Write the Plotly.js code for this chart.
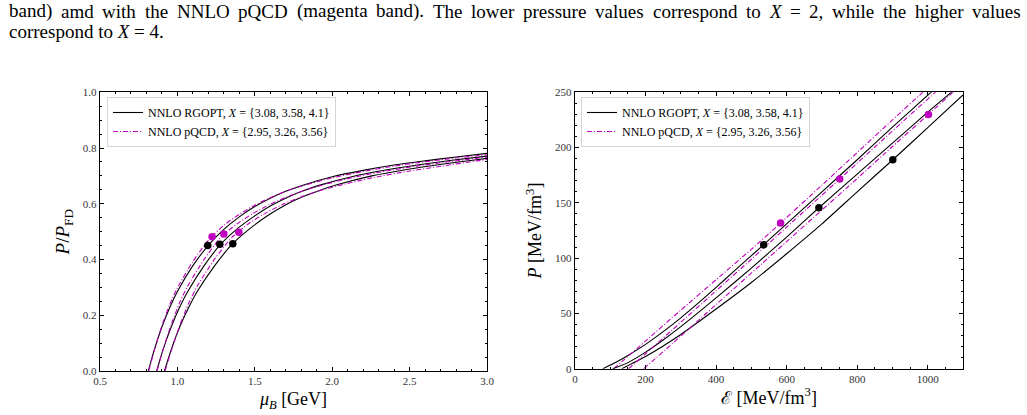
<!DOCTYPE html>
<html><head><meta charset="utf-8">
<script src="https://cdn.plot.ly/plotly-3.0.1.min.js"></script>
<style>html,body{margin:0;padding:0;background:#fff}#chart{width:1027px;height:415px}</style>
</head><body><div id="chart"></div>
<script>
// ---------- Left panel: P/P_FD vs mu_B ----------
const rgoptMu1 = [0.812,0.85,0.90,0.95,1.0,1.1,1.2,1.3,1.4,1.5,1.6,1.7,1.8,2.0,2.2,2.4,2.6,2.8,3.0];
const rgoptR1  = [0,0.075,0.158,0.227,0.285,0.378,0.451,0.508,0.553,0.590,0.620,0.645,0.665,0.697,0.720,0.739,0.754,0.768,0.781];
const rgoptMu2 = [0.866,0.906,0.96,1.013,1.067,1.173,1.28,1.386,1.493,1.6,1.706,1.813,1.92,2.133,2.346,2.56,2.773,3.0];
const rgoptR2  = [0,0.075,0.158,0.227,0.285,0.378,0.455,0.51,0.554,0.592,0.622,0.647,0.667,0.698,0.721,0.740,0.756,0.771];
const rgoptMu3 = [0.916,0.959,1.015,1.072,1.128,1.241,1.354,1.466,1.579,1.692,1.805,1.918,2.03,2.256,2.482,2.707,2.933,3.0];
const rgoptR3  = [0,0.075,0.158,0.227,0.285,0.378,0.455,0.51,0.556,0.594,0.624,0.648,0.668,0.700,0.723,0.742,0.758,0.763];
const pqcdMu1 = [0.815,0.85,0.9,0.95,1.0,1.1,1.2,1.3,1.4,1.5,1.6,1.7,1.8,2.0,2.2,2.4,2.6,2.8,3.0];
const pqcdR1  = [0,0.072,0.163,0.238,0.298,0.393,0.469,0.523,0.562,0.595,0.622,0.645,0.663,0.693,0.716,0.735,0.751,0.764,0.776];
const pqcdMu2 = [0.868,0.905,0.959,1.012,1.065,1.172,1.278,1.385,1.491,1.598,1.704,1.811,1.917,2.13,2.343,2.556,2.769,3.0];
const pqcdR2  = [0,0.072,0.165,0.242,0.303,0.400,0.478,0.528,0.566,0.598,0.624,0.646,0.664,0.694,0.717,0.736,0.752,0.767];
const pqcdMu3 = [0.92,0.96,1.016,1.073,1.129,1.242,1.355,1.468,1.581,1.693,1.806,1.919,2.032,2.258,2.484,2.709,2.935,3.0];
const pqcdR3  = [0,0.072,0.165,0.243,0.305,0.403,0.481,0.532,0.570,0.601,0.626,0.647,0.664,0.693,0.716,0.735,0.754,0.759];
const rgoptDotMu = [1.196,1.274,1.358];
const rgoptDotR  = [0.450,0.4545,0.457];
const pqcdDotMu  = [1.224,1.300,1.397];
const pqcdDotR   = [0.482,0.492,0.498];

// ---------- Right panel: P vs energy density ----------
const rgoptE1 = [79,120,150,200,250,300,350,400,450,535,600,700,800,900,1009,1030];
const rgoptP1 = [0,6.5,12,22,33.5,46,59.5,73.5,88,112.2,131,160,189,218.5,250,256];
const rgoptE2 = [107,150,200,250,300,400,500,600,691.4,800,900,1000,1067,1090];
const rgoptP2 = [0,5.5,15,26,38,64,91,119,145.6,176,204,232,250,256];
const rgoptE3 = [133,200,300,400,500,600,700,800,901,1000,1100];
const rgoptP3 = [0,11,31,54,78,104,131,160,189,218,247.6];
const pqcdE1 = [110,200,300,400,500,583,700,800,900,986,1010];
const pqcdP1 = [0,25,53,80.5,108,131.8,166,195.5,225,250,257];
const pqcdE2 = [152,200,300,400,500,600,750.5,850,950,1025,1045];
const pqcdP2 = [0,13.5,42,70.5,99,128,171.6,200.5,229.5,251,257];
const pqcdE3 = [195,300,400,500,600,700,800,900,1002,1071,1090];
const pqcdP3 = [0,29.5,58,86.5,115,143.5,172,201,230,250,255.5];
const rgoptDotE = [535,691.4,901];
const rgoptDotP = [112.2,145.6,189];
const pqcdDotE  = [583,750.5,1002];
const pqcdDotP  = [131.8,171.6,230];

const rgoptName = 'NNLO RGOPT, <i>X</i> = {3.08, 3.58, 4.1}';
const pqcdName  = 'NNLO pQCD, <i>X</i> = {2.95, 3.26, 3.56}';
const captionLine1 = 'band) amd with the NNLO pQCD (magenta band). The lower pressure values correspond to <i>X</i> = 2, while the higher values';
const captionLine2 = 'correspond to <i>X</i> = 4.';

const W = 1027, H = 415;
const SERIF = 'Liberation Serif, DejaVu Serif, serif';
const BLACK = '#000000', MAG = '#bf00bf';
const DASHDOT = '5px,2px,1px,2px';

function line(x, y, color, dash, xa, ya, name, show, leg) {
  return {x, y, xaxis: xa, yaxis: ya, type: 'scatter', mode: 'lines',
    line: {color, width: 1.1, dash, shape: 'spline', smoothing: 0.6},
    name: name || '', showlegend: !!show, legend: leg, hoverinfo: 'skip'};
}
function dots(x, y, color, xa, ya) {
  return {x, y, xaxis: xa, yaxis: ya, type: 'scatter', mode: 'markers',
    marker: {color, size: 7.5}, showlegend: false, hoverinfo: 'skip', cliponaxis: false};
}

const traces = [
  line(rgoptMu1, rgoptR1, BLACK, 'solid', 'x', 'y', rgoptName, true, 'legend'),
  line(pqcdMu1, pqcdR1, MAG, DASHDOT, 'x', 'y', pqcdName, true, 'legend'),
  line(rgoptMu2, rgoptR2, BLACK, 'solid', 'x', 'y'),
  line(rgoptMu3, rgoptR3, BLACK, 'solid', 'x', 'y'),
  line(pqcdMu2, pqcdR2, MAG, DASHDOT, 'x', 'y'),
  line(pqcdMu3, pqcdR3, MAG, DASHDOT, 'x', 'y'),
  dots(rgoptDotMu, rgoptDotR, BLACK, 'x', 'y'),
  dots(pqcdDotMu, pqcdDotR, MAG, 'x', 'y'),

  line(rgoptE1, rgoptP1, BLACK, 'solid', 'x2', 'y2', rgoptName, true, 'legend2'),
  line(pqcdE1, pqcdP1, MAG, DASHDOT, 'x2', 'y2', pqcdName, true, 'legend2'),
  line(rgoptE2, rgoptP2, BLACK, 'solid', 'x2', 'y2'),
  line(rgoptE3, rgoptP3, BLACK, 'solid', 'x2', 'y2'),
  line(pqcdE2, pqcdP2, MAG, DASHDOT, 'x2', 'y2'),
  line(pqcdE3, pqcdP3, MAG, DASHDOT, 'x2', 'y2'),
  dots(rgoptDotE, rgoptDotP, BLACK, 'x2', 'y2'),
  dots(pqcdDotE, pqcdDotP, MAG, 'x2', 'y2')
];

// ---------- caption (justified first line, like the source page) ----------
const CAP_SIZE = 19;
const canvas = document.createElement('canvas');
const ctx = canvas.getContext('2d');
function textWidth(tok) {
  ctx.font = (tok.indexOf('<i>') >= 0 ? 'italic ' : '') + CAP_SIZE + 'px "Liberation Serif"';
  return ctx.measureText(tok.replace(/<[^>]+>/g, '')).width;
}
function captionAnnotations(text, yPx, justify) {
  const left = 8, right = 1020;
  if (!justify) {
    return [{xref: 'paper', yref: 'paper', x: left / W, y: 1 - yPx / H, xanchor: 'left', yanchor: 'middle',
      showarrow: false, text, borderpad: 0, font: {family: SERIF, size: CAP_SIZE, color: '#000'}}];
  }
  const toks = text.split(' ');
  const widths = toks.map(textWidth);
  const total = widths.reduce((a, b) => a + b, 0);
  const gap = (right - left - total) / (toks.length - 1);
  const out = [];
  let x = left;
  toks.forEach((t, i) => {
    out.push({xref: 'paper', yref: 'paper', x: x / W, y: 1 - yPx / H, xanchor: 'left', yanchor: 'middle',
      showarrow: false, text: t, borderpad: 0, font: {family: SERIF, size: CAP_SIZE, color: '#000'}});
    x += widths[i] + gap;
  });
  return out;
}

const tickFont = {family: SERIF, size: 11, color: '#333'};
const titleFont = {family: SERIF, size: 18, color: '#000'};
function axis(extra) {
  return Object.assign({
    showgrid: false, zeroline: false, showline: true, linecolor: '#000', linewidth: 1.2,
    mirror: 'allticks', ticks: 'inside', ticklen: 4, tickwidth: 1, tickcolor: '#000',
    tickfont: tickFont, automargin: false
  }, extra);
}

const layout = {
  width: W, height: H,
  margin: {l: 0, r: 0, t: 0, b: 0},
  paper_bgcolor: '#fff', plot_bgcolor: '#fff',
  showlegend: true,
  xaxis: axis({domain: [100/W, 487/W], range: [0.5, 3.0], dtick: 0.5, tick0: 0.5, tickformat: '.1f',
    minor: {dtick: 0.1, ticks: 'inside', ticklen: 2, tickcolor: '#000', showgrid: false},
    anchor: 'y', title: {text: '<i>μ</i><sub><i>B</i></sub> [GeV]', font: titleFont, standoff: 6}}),
  yaxis: axis({domain: [1 - 371/H, 1 - 92.3/H], range: [0, 1.0], dtick: 0.2, tickformat: '.1f',
    minor: {dtick: 0.05, ticks: 'inside', ticklen: 2, tickcolor: '#000', showgrid: false},
    anchor: 'x', title: {text: '<i>P</i>/<i>P</i><sub>FD</sub>', font: {family: SERIF, size: 19, color: '#000'}, standoff: 8}}),
  xaxis2: axis({domain: [575/W, 963/W], range: [0, 1100], dtick: 200, tick0: 0,
    minor: {dtick: 50, ticks: 'inside', ticklen: 2, tickcolor: '#000', showgrid: false},
    anchor: 'y2', title: {text: 'ℰ [MeV/fm<sup>3</sup>]', font: titleFont, standoff: 6}}),
  yaxis2: axis({domain: [1 - 368.7/H, 1 - 92.3/H], range: [0, 250], dtick: 50,
    minor: {dtick: 10, ticks: 'inside', ticklen: 2, tickcolor: '#000', showgrid: false},
    anchor: 'x2', title: {text: '<i>P</i> [MeV/fm<sup>3</sup>]', font: titleFont, standoff: 8}}),
  legend: {x: 107/W, y: 1 - 97/H, xanchor: 'left', yanchor: 'top', bgcolor: 'rgba(255,255,255,0.9)',
    bordercolor: '#d5d5d5', borderwidth: 1, font: {family: SERIF, size: 12, color: '#000'},
    tracegroupgap: 0, itemwidth: 30},
  legend2: {x: 581/W, y: 1 - 97/H, xanchor: 'left', yanchor: 'top', bgcolor: 'rgba(255,255,255,0.9)',
    bordercolor: '#d5d5d5', borderwidth: 1, font: {family: SERIF, size: 12, color: '#000'},
    tracegroupgap: 0, itemwidth: 30},
  annotations: [].concat(captionAnnotations(captionLine1, 11, true), captionAnnotations(captionLine2, 31.5, false))
};

Plotly.newPlot('chart', traces, layout, {staticPlot: true, displayModeBar: false});
</script>
</body></html>
